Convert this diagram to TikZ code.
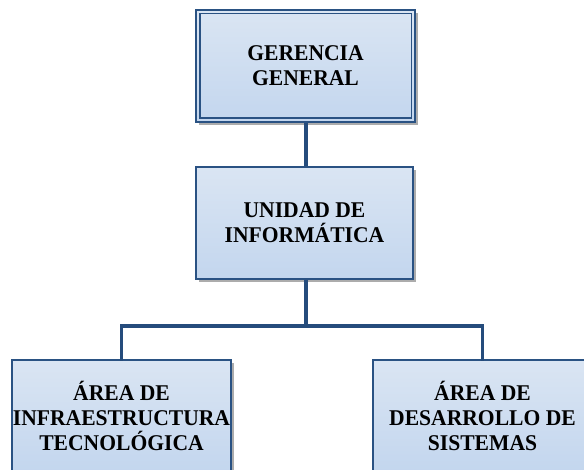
\documentclass[tikz,border=0pt]{standalone}
\usepackage{fontspec}
\setmainfont[FakeStretch=0.96]{Liberation Serif}
\usetikzlibrary{shadows,calc}
\definecolor{boxtop}{HTML}{DAE5F3}
\definecolor{boxbot}{HTML}{C3D6EE}
\definecolor{edge}{HTML}{2A5283}
\definecolor{conn}{HTML}{254C7C}
\tikzset{
  orgbox/.style={draw=edge, line width=1.6pt, top color=boxtop, bottom color=boxbot,
    minimum width=219pt, minimum height=112pt, align=center, inner sep=0pt,
    font=\fontsize{22.5}{25}\selectfont\bfseries,
    drop shadow={shadow xshift=3pt, shadow yshift=-3pt, fill=black!50, opacity=.65}},
  link/.style={draw=conn, line width=3.2pt}
}
\begin{document}
\begin{tikzpicture}[x=1pt,y=1pt]
\useasboundingbox (0,0) rectangle (584,469);
\clip (0,0) rectangle (584,469);
\node[orgbox] (gg) at (305.5,403) {GERENCIA\\GENERAL};
\draw[edge, line width=1.6pt] ([shift={(4.5pt,4.5pt)}]gg.south west) rectangle ([shift={(-4.5pt,-4.5pt)}]gg.north east);
\node[orgbox, minimum width=217pt] (ui) at (304.5,246) {UNIDAD DE\\INFORMÁTICA};
\node[orgbox] (ai) at (121.5,53) {ÁREA DE\\INFRAESTRUCTURA\\TECNOLÓGICA};
\node[orgbox] (ad) at (482.5,53) {ÁREA DE\\DESARROLLO DE\\SISTEMAS};
\coordinate (j) at (306,143);
\draw[link] ([xshift=0.5pt]gg.south) -- ([xshift=1.5pt]ui.north);
\draw[link] ([xshift=1.5pt]ui.south) -- (j);
\draw[link, line cap=rect] (ai.north) |- (j) -| (ad.north);
\end{tikzpicture}
\end{document}
